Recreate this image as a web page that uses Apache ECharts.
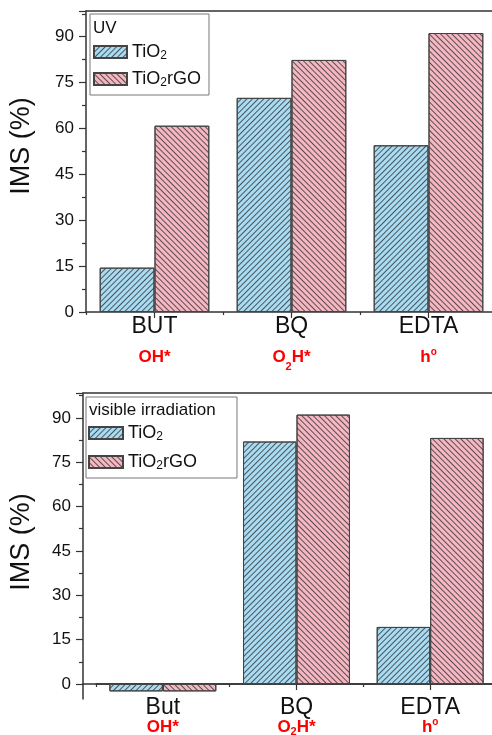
<!DOCTYPE html>
<html>
<head>
<meta charset="utf-8">
<script src="https://cdn.jsdelivr.net/npm/echarts@6.0.0/dist/echarts.min.js"></script>
<style>
html,body{margin:0;padding:0;background:#fff;}
#c{width:492px;height:735px;}
</style>
</head>
<body>
<div id="c"></div>
<script>
// ---- data ----
const categoriesUV = ['BUT', 'BQ', 'EDTA'];
const categoriesVis = ['But', 'BQ', 'EDTA'];
const species = ['OH*', 'O_2H*', 'h^o'];
const seriesNames = ['TiO2', 'TiO2rGO'];
const uvTiO2 = [14.5, 70.0, 54.5];
const uvTiO2rGO = [60.9, 82.4, 91.2];
const visTiO2 = [-2.5, 82.0, 19.3];
const visTiO2rGO = [-2.5, 91.1, 83.2];
const yTickInterval = 15;
const uvTitle = 'UV';
const visTitle = 'visible irradiation';
const yName = 'IMS (%)';

// ---- styling ----
const FONT = 'Liberation Sans, Arial, sans-serif';
const AXIS = '#333';
const blue = '#a9dcf3';
const pink = '#f5b8c3';

function speciesRich(s) {
  // _x -> subscript, ^x -> superscript
  let out = '';
  let buf = '';
  for (let i = 0; i < s.length; i++) {
    const ch = s[i];
    if ((ch === '_' || ch === '^') && i + 1 < s.length) {
      if (buf) { out += '{sp|' + buf + '}'; buf = ''; }
      out += '{' + (ch === '_' ? 'sub' : 'sup') + '|' + s[i + 1] + '}';
      i++;
    } else buf += ch;
  }
  if (buf) out += '{sp|' + buf + '}';
  return out;
}
function legendRich(name) {
  return name.replace(/^TiO2/, 'TiO{s|2}');
}

const decalBlue = { symbol: 'rect', symbolSize: 1, color: 'rgba(40,40,40,0.75)', dashArrayX: [1, 0], dashArrayY: [1, 2.2], rotation: -Math.PI / 4 };
const decalPink = { symbol: 'rect', symbolSize: 1, color: 'rgba(40,40,40,0.75)', dashArrayX: [1, 0], dashArrayY: [1, 2.2], rotation: Math.PI / 4 };

const axisLineStyle = { color: AXIS, width: 1.5 };
const tickStyle = { color: AXIS, width: 1.2 };

function yTickAxis(gridIndex, nameGap, namePadding) {
  return {
    type: 'value', gridIndex, min: 0, max: 98.4, interval: yTickInterval,
    name: yName, nameLocation: 'middle', nameGap: nameGap,
    nameTextStyle: { fontSize: 27, fontFamily: FONT, color: '#111', padding: namePadding },
    axisLine: { show: true, onZero: false, lineStyle: axisLineStyle },
    axisTick: { show: true, inside: false, length: 7, lineStyle: tickStyle },
    minorTick: { show: true, splitNumber: 2, length: 4, lineStyle: tickStyle },
    splitLine: { show: false },
    axisLabel: {
      fontSize: 17, fontFamily: FONT, color: '#111', margin: 12,
      formatter: v => (v % yTickInterval === 0 ? String(v) : '')
    }
  };
}

function xRich(catSize, l1, l2, subH, supPad) {
  return {
    cat: { fontSize: catSize, fontFamily: FONT, color: '#111', lineHeight: l1 },
    sp: { fontSize: 17, fontFamily: FONT, fontWeight: 'bold', color: '#ff0000', lineHeight: l2 },
    sub: { fontSize: 11, fontFamily: FONT, fontWeight: 'bold', color: '#ff0000', verticalAlign: 'bottom', lineHeight: subH },
    sup: { fontSize: 10, fontFamily: FONT, fontWeight: 'bold', color: '#ff0000', verticalAlign: 'top', lineHeight: 12, padding: [supPad, 0, 0, 0] }
  };
}
const lineOnly = (extra) => Object.assign({
  axisTick: { show: false }, axisLabel: { show: false }, splitLine: { show: false }
}, extra);

const legendCommon = {
  data: seriesNames, orient: 'vertical', icon: 'rect', itemHeight: 12,
  borderColor: '#777', borderWidth: 1,
  formatter: legendRich,
  textStyle: { fontSize: 18, fontFamily: FONT, color: '#111', lineHeight: 20,
    rich: { s: { fontSize: 12, fontFamily: FONT, color: '#111', verticalAlign: 'bottom', lineHeight: 6 } } }
};

const G = { right: -5, outerBoundsMode: 'none', containLabel: false };
const option = {
  animation: false,
  backgroundColor: '#fff',
  grid: [
    Object.assign({ left: 86, top: 11, bottom: 423 }, G),   // 0: UV
    Object.assign({ left: 83, top: 393, bottom: 51 }, G),   // 1: visible: y ticks, zero line, top border
    Object.assign({ left: 96, top: 393, bottom: 51 }, G),   // 2: visible: bars + categories
    Object.assign({ left: 83, top: 684, bottom: 36 }, G)    // 3: visible: y axis line below zero
  ],
  title: [
    { text: uvTitle, left: 93, top: 18, padding: 0, textStyle: { fontSize: 17, fontWeight: 'normal', fontFamily: FONT, color: '#111', lineHeight: 20 } },
    { text: visTitle, left: 89, top: 400, padding: 0, textStyle: { fontSize: 17, fontWeight: 'normal', fontFamily: FONT, color: '#111', lineHeight: 20 } }
  ],
  legend: [
    Object.assign({}, legendCommon, { left: 90, top: 14, padding: [28, 8, 6, 3], itemGap: 7, itemWidth: 33 }),
    Object.assign({}, legendCommon, { left: 86, top: 397, padding: [26, 40, 6, 2], itemGap: 9, itemWidth: 34 })
  ],
  xAxis: [
    // 0: UV chart category axis
    {
      type: 'category', gridIndex: 0, data: categoriesUV, position: 'bottom',
      axisLine: { show: true, lineStyle: axisLineStyle },
      axisTick: { show: true, alignWithLabel: true, length: 6, lineStyle: tickStyle },
      axisLabel: {
        margin: 0, interval: 0,
        formatter: (v, i) => '{cat|' + v + '}\n' + speciesRich(species[i]),
        rich: xRich(23, 30, 30, 16, 5)
      }
    },
    // 1: UV minor ticks at boundaries
    {
      type: 'category', gridIndex: 0, data: categoriesUV, position: 'bottom',
      axisLine: { show: false }, axisLabel: { show: false },
      axisTick: { show: true, alignWithLabel: false, length: 3, lineStyle: tickStyle }
    },
    // 2: UV top border
    lineOnly({ type: 'value', gridIndex: 0, position: 'top', min: 0, max: 1,
      axisLine: { show: true, onZero: false, lineStyle: axisLineStyle } }),
    // 3: visible zero line
    lineOnly({ type: 'value', gridIndex: 1, position: 'bottom', min: 0, max: 1,
      axisLine: { show: true, onZero: false, lineStyle: axisLineStyle } }),
    // 4: visible top border
    lineOnly({ type: 'value', gridIndex: 1, position: 'top', min: 0, max: 1,
      axisLine: { show: true, onZero: false, lineStyle: axisLineStyle } }),
    // 5: visible category axis
    {
      type: 'category', gridIndex: 2, data: categoriesVis, position: 'bottom',
      axisLine: { show: true, onZero: false, lineStyle: axisLineStyle },
      axisTick: { show: true, alignWithLabel: true, length: 6, lineStyle: tickStyle },
      axisLabel: {
        margin: 15, interval: 0,
        formatter: (v, i) => '{cat|' + v + '}\n' + speciesRich(species[i]),
        rich: xRich(23, 18, 20, 6, 0)
      }
    },
    // 6: visible minor ticks
    {
      type: 'category', gridIndex: 2, data: categoriesVis, position: 'bottom',
      axisLine: { show: false, onZero: false }, axisLabel: { show: false },
      axisTick: { show: true, alignWithLabel: false, length: 3, lineStyle: tickStyle }
    },
    // 7: hidden x axis for grid 3
    { type: 'value', gridIndex: 3, min: 0, max: 1, show: false }
  ],
  yAxis: [
    yTickAxis(0, 51, [0, 0, 0, 31]),
    yTickAxis(1, 48, [0, 7, 0, 0]),
    { type: 'value', gridIndex: 2, min: 0, max: 98.4, show: false },
    lineOnly({ type: 'value', gridIndex: 3, min: 0, max: 1,
      axisLine: { show: true, onZero: false, lineStyle: axisLineStyle } })
  ],
  series: [
    { name: seriesNames[0], type: 'bar', xAxisIndex: 0, yAxisIndex: 0, data: uvTiO2, barGap: '0%', barCategoryGap: '20%',
      itemStyle: { color: blue, borderColor: '#444', borderWidth: 1, decal: decalBlue } },
    { name: seriesNames[1], type: 'bar', xAxisIndex: 0, yAxisIndex: 0, data: uvTiO2rGO, barGap: '0%', barCategoryGap: '20%',
      itemStyle: { color: pink, borderColor: '#444', borderWidth: 1, decal: decalPink } },
    { name: seriesNames[0], type: 'bar', xAxisIndex: 5, yAxisIndex: 2, data: visTiO2, barGap: '0%', barCategoryGap: '20%', clip: false,
      itemStyle: { color: blue, borderColor: '#444', borderWidth: 1, decal: decalBlue } },
    { name: seriesNames[1], type: 'bar', xAxisIndex: 5, yAxisIndex: 2, data: visTiO2rGO, barGap: '0%', barCategoryGap: '20%', clip: false,
      itemStyle: { color: pink, borderColor: '#444', borderWidth: 1, decal: decalPink } }
  ]
};

const chart = echarts.init(document.getElementById('c'), null, { renderer: 'canvas' });
chart.setOption(option);
</script>
</body>
</html>
